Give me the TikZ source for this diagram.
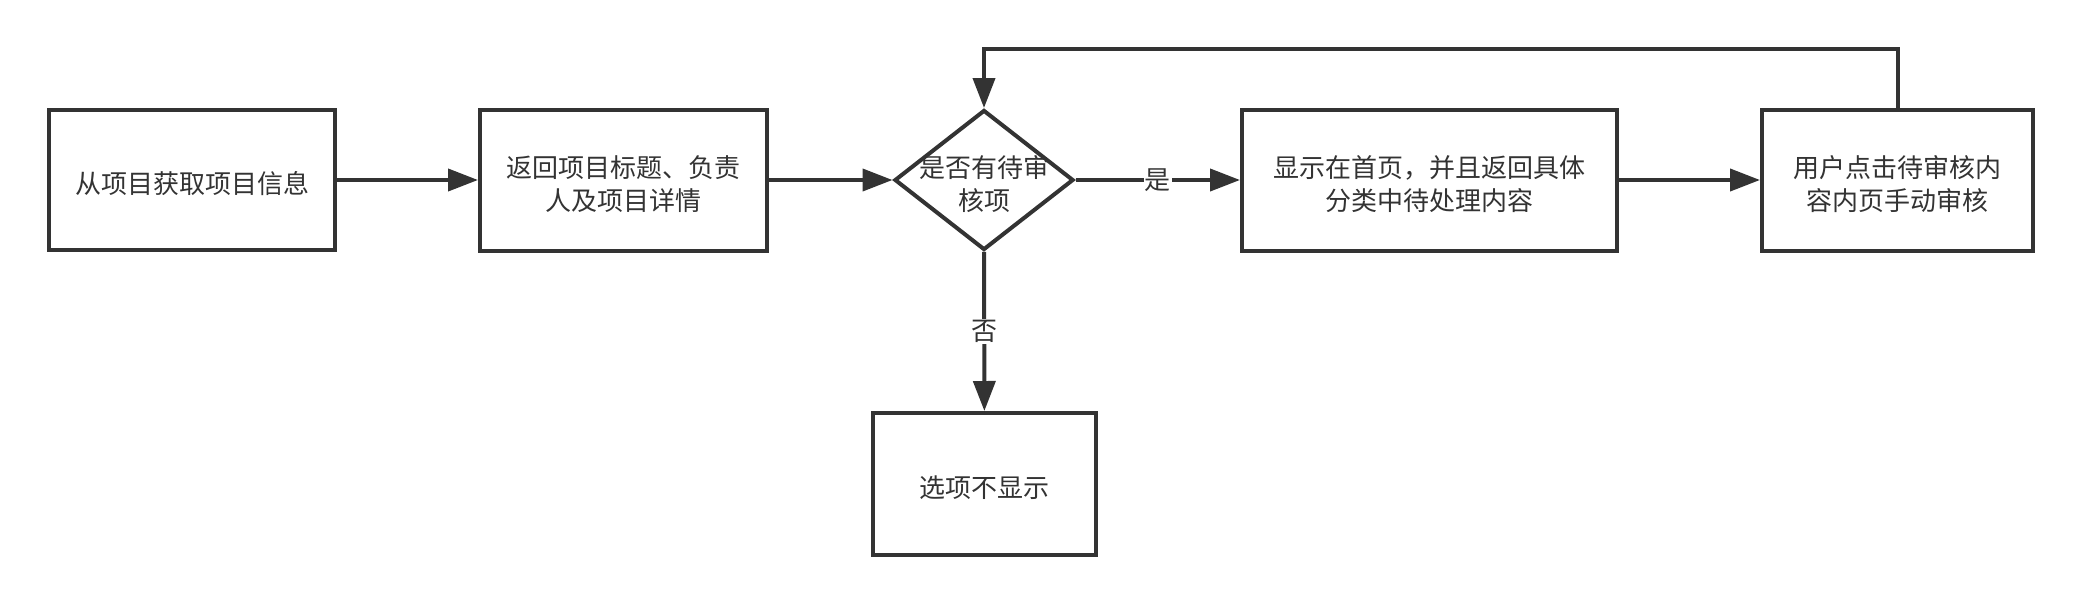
\documentclass[tikz,border=0pt]{standalone}
\usepackage{fontspec}
\newfontfamily\cjk{Noto Sans CJK SC}
\usetikzlibrary{arrows.meta,shapes.geometric}
\definecolor{ink}{HTML}{333333}
\tikzset{
  txt/.style={text=ink, align=center, font=\cjk\fontsize{26}{33}\selectfont},
  box/.style={draw=ink, line width=4pt, rectangle, inner sep=0pt, txt},
  dec/.style={draw=ink, line width=4pt, diamond, inner sep=0pt},
  conn/.style={draw=ink, line width=4pt, -{Triangle[length=30pt,width=22pt]}},
  lbl/.style={fill=white, text=ink, inner sep=1pt, font=\cjk\fontsize{26}{30}\selectfont}
}
\begin{document}
\begin{tikzpicture}[x=1pt,y=-1pt]
\useasboundingbox (0,0) rectangle (2082,605);
\node[box, minimum width=286pt, minimum height=140pt] (a) at (192,180) {};
\node[txt] (at) at (192,184) {从项目获取项目信息};
\node[box, minimum width=287pt, minimum height=141pt] (b) at (623.5,180) {};
\node[txt] (bt) at (623.5,184) {返回项目标题、负责\\人及项目详情};
\node[dec, minimum width=179pt, minimum height=140pt, shape aspect=1.28] (d) at (984,180) {};
\node[txt] (dt) at (984,184) {是否有待审\\核项};
\node[box, minimum width=223pt, minimum height=142pt] (n) at (984.5,484) {};
\node[txt] (nt) at (984.5,488) {选项不显示};
\node[box, minimum width=375pt, minimum height=141pt] (c) at (1429.5,180) {};
\node[txt] (ct) at (1429.5,184) {显示在首页，并且返回具体\\分类中待处理内容};
\node[box, minimum width=271pt, minimum height=141pt] (e) at (1897.5,180) {};
\node[txt] (et) at (1897.5,184) {用户点击待审核内\\容内页手动审核};
\coordinate (t1) at (1897.5,49);
\coordinate (t2) at (984,49);
\draw[conn] (a) -- (b);
\draw[conn] (b) -- (d);
\draw[conn] (d) -- node[lbl] {是} (c);
\draw[conn] (d) -- node[lbl] {否} (n);
\draw[conn] (c) -- (e);
\draw[conn] (e.north) -- (t1) -- (t2) -- (d.north);
\end{tikzpicture}
\end{document}
